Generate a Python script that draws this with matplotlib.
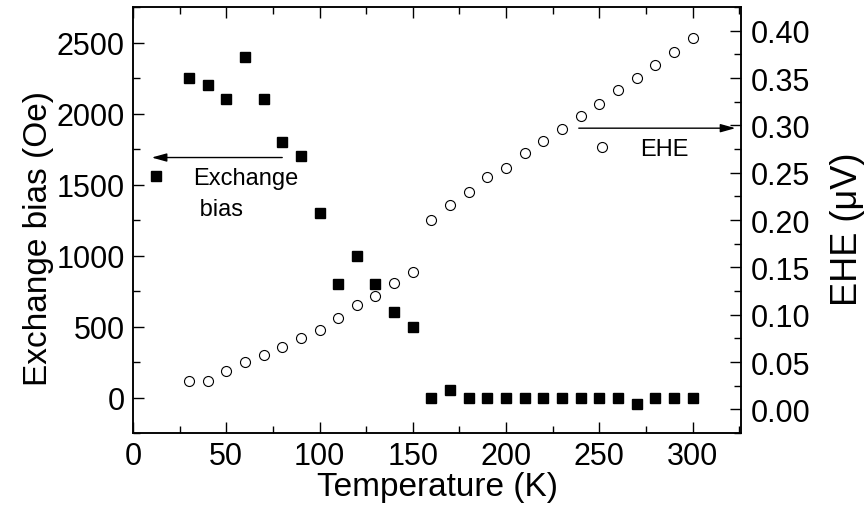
import matplotlib
matplotlib.use("Agg")
import matplotlib.pyplot as plt
from matplotlib.lines import Line2D

plt.rcParams['font.family'] = ['Liberation Sans', 'DejaVu Sans']

# temperature (K)
temperature = [30, 40, 50, 60, 70, 80, 90, 100, 110, 120, 130, 140, 150,
               160, 170, 180, 190, 200, 210, 220, 230, 240, 250, 260, 270,
               280, 290, 300]
# exchange bias (Oe)
exchange_bias = [2250, 2200, 2100, 2400, 2100, 1800, 1700, 1300, 800, 1000,
                 800, 600, 500, 0, 50, 0, 0, 0, 0, 0, 0, 0, 0, 0, -45, 0, 0, 0]
# extraordinary Hall effect (uV)
ehe = [0.030, 0.030, 0.041, 0.050, 0.057, 0.066, 0.075, 0.084, 0.096, 0.110,
       0.120, 0.133, 0.145, 0.200, 0.216, 0.230, 0.245, 0.255, 0.271, 0.283,
       0.296, 0.310, 0.323, 0.337, 0.350, 0.364, 0.378, 0.392]

fig = plt.figure(figsize=(8.66, 5.10), dpi=100)
ax = fig.add_axes([0.1536, 0.149, 0.7021, 0.8353])
ax2 = ax.twinx()

ax.plot(temperature, exchange_bias, 's', color='k', ms=6.5, mec='k')
ax2.plot(temperature, ehe, 'o', mfc='none', mec='k', ms=7.2, mew=0.8)

ax.set_xlim(0, 326)
ax.set_ylim(-250, 2750)
ax2.set_ylim(-0.0246, 0.425)

ax.set_xticks(range(0, 301, 50))
ax.set_xticks(range(25, 326, 50), minor=True)
ax.set_yticks(range(0, 2501, 500))
ax.set_yticks(range(-250, 2751, 500), minor=True)
ax2.set_yticks([0.0, 0.05, 0.10, 0.15, 0.20, 0.25, 0.30, 0.35, 0.40])
ax2.set_yticks([-0.025, 0.025, 0.075, 0.125, 0.175, 0.225, 0.275, 0.325,
                0.375, 0.425], minor=True)
ax2.yaxis.set_major_formatter(matplotlib.ticker.FormatStrFormatter('%.2f'))

ax.tick_params(which='both', direction='in', top=True, right=False,
               width=1, labelsize=22, pad=6)
ax.tick_params(which='major', length=8)
ax.tick_params(which='minor', length=5)
ax2.tick_params(which='both', direction='in', width=1, labelsize=22, pad=7)
ax2.tick_params(which='major', length=8)
ax2.tick_params(which='minor', length=5)
for a in (ax, ax2):
    for s in a.spines.values():
        s.set_linewidth(1.1)

ax.set_xlabel('Temperature (K)', fontsize=24, labelpad=0)
ax.set_ylabel('Exchange bias (Oe)', fontsize=24)
ax.yaxis.set_label_coords(-0.13, 0.46)
ax2.set_ylabel('EHE (\u03bcV)', fontsize=26)
ax2.yaxis.set_label_coords(1.147, 0.48)

# arrows pointing to the relevant axis
ax.annotate('', xy=(10, 1690), xytext=(80, 1690),
            arrowprops=dict(arrowstyle='-|>,head_length=0.9,head_width=0.25',
                            color='k', lw=1, shrinkA=0, shrinkB=0,
                            mutation_scale=10))
ax2.annotate('', xy=(323, 0.297), xytext=(239, 0.297),
             arrowprops=dict(arrowstyle='-|>,head_length=0.9,head_width=0.25',
                             color='k', lw=1, shrinkA=0, shrinkB=0,
                             mutation_scale=10))

# key markers
eb_key = Line2D([], [], marker='s', ls='none', color='k', ms=6.5)
blank = Line2D([], [], ls='none')
ax.legend([eb_key, blank], ['Exchange', ' bias'], loc='center left',
          bbox_to_anchor=(0.018, 0.562), frameon=False, fontsize=17,
          handlelength=1.0, handletextpad=1.07, borderpad=0,
          borderaxespad=0, labelspacing=0.4)
ehe_key = Line2D([], [], marker='o', ls='none', mfc='none', mec='k',
                 ms=7.2, mew=0.8)
ax2.legend([ehe_key], ['EHE'], loc='center left',
           bbox_to_anchor=(0.752, 0.667), frameon=False, fontsize=17,
           handlelength=1.0, handletextpad=1.1, borderpad=0, borderaxespad=0)

fig.savefig('out.png', dpi=100)
